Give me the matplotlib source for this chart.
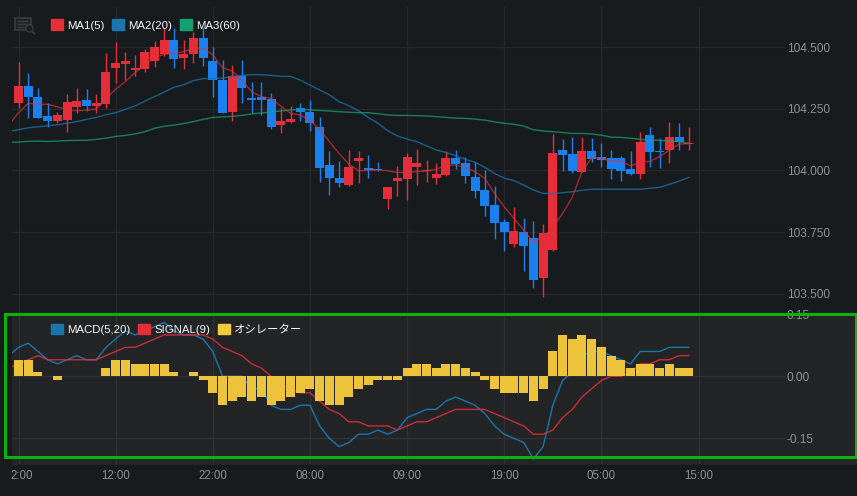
import matplotlib
matplotlib.use('Agg')
import matplotlib.pyplot as plt
import numpy as np
from matplotlib.patches import Patch, Rectangle, FancyBboxPatch
from matplotlib.lines import Line2D
from matplotlib.transforms import ScaledTranslation

plt.rcParams['font.family'] = ['Liberation Sans', 'Noto Sans CJK JP']

W, H = 857, 496

# ローソク足
opens = [104.275, 104.342, 104.298, 104.221, 104.202, 104.204, 104.257, 104.285, 104.261, 104.270,
         104.415, 104.431, 104.407, 104.412, 104.443, 104.470, 104.528, 104.455, 104.472, 104.536,
         104.443, 104.366, 104.238, 104.384, 104.293, 104.296, 104.288, 104.184, 104.198, 104.253,
         104.237, 104.176, 104.022, 103.969, 103.941, 104.038, 104.010, 104.005, 103.884, 103.957,
         103.965, 104.014, 103.996, 103.969, 103.982, 104.050, 104.030, 103.973, 103.921, 103.860,
         103.791, 103.702, 103.751, 103.726, 103.564, 103.678, 104.083, 104.067, 103.994, 104.079,
         104.054, 104.050, 104.050, 104.006, 103.986, 104.144, 104.079, 104.083, 104.135, 104.106]
highs = [104.438, 104.393, 104.333, 104.272, 104.238, 104.308, 104.333, 104.329, 104.308, 104.474,
         104.519, 104.481, 104.466, 104.491, 104.526, 104.576, 104.576, 104.528, 104.562, 104.582,
         104.501, 104.447, 104.427, 104.447, 104.357, 104.357, 104.315, 104.252, 104.261, 104.272,
         104.285, 104.215, 104.079, 104.038, 104.081, 104.079, 104.061, 104.034, 103.934, 104.017,
         104.069, 104.086, 104.042, 104.029, 104.079, 104.083, 104.053, 104.034, 104.002, 103.937,
         103.802, 103.852, 103.807, 103.795, 103.783, 104.148, 104.127, 104.135, 104.135, 104.131,
         104.110, 104.083, 104.059, 104.079, 104.156, 104.176, 104.131, 104.196, 104.192, 104.176]
lows = [104.252, 104.211, 104.211, 104.177, 104.191, 104.157, 104.234, 104.241, 104.231, 104.252,
        104.356, 104.366, 104.383, 104.400, 104.420, 104.464, 104.416, 104.410, 104.437, 104.424,
        104.299, 104.231, 104.202, 104.272, 104.231, 104.225, 104.167, 104.153, 104.191, 104.202,
        104.161, 103.955, 103.902, 103.932, 103.937, 103.951, 103.971, 103.998, 103.845, 103.898,
        103.882, 103.942, 103.952, 103.946, 103.978, 104.005, 103.951, 103.890, 103.817, 103.724,
        103.675, 103.691, 103.593, 103.525, 103.489, 103.674, 103.999, 103.988, 103.994, 104.033,
        104.015, 103.967, 103.959, 103.983, 103.967, 104.015, 104.011, 104.032, 104.083, 104.083]
closes = [104.342, 104.299, 104.214, 104.202, 104.223, 104.277, 104.281, 104.261, 104.273, 104.399,
          104.435, 104.443, 104.415, 104.480, 104.500, 104.528, 104.453, 104.470, 104.536, 104.457,
          104.366, 104.233, 104.383, 104.335, 104.285, 104.287, 104.177, 104.200, 104.208, 104.237,
          104.194, 104.011, 103.969, 103.949, 104.014, 104.050, 104.000, 104.000, 103.933, 103.969,
          104.054, 104.030, 104.002, 103.986, 104.050, 104.026, 103.978, 103.917, 103.856, 103.787,
          103.751, 103.755, 103.694, 103.556, 103.747, 104.071, 104.063, 103.998, 104.079, 104.046,
          104.042, 104.006, 103.998, 103.986, 104.115, 104.075, 104.075, 104.135, 104.115, 104.110]

# 移動平均 (先頭は左端で切れている1本前の値)
ma1 = [104.184, 104.234, 104.272, 104.268, 104.268, 104.258, 104.245, 104.242, 104.244, 104.249, 104.292,
       104.329, 104.360, 104.396, 104.427, 104.458, 104.470, 104.474, 104.481, 104.495, 104.495,
       104.468, 104.416, 104.403, 104.366, 104.319, 104.299, 104.292, 104.261, 104.231, 104.225,
       104.202, 104.167, 104.117, 104.069, 104.026, 103.999, 104.000, 104.002, 103.999, 103.992,
       103.992, 103.996, 103.998, 104.005, 104.022, 104.022, 104.013, 103.995, 103.968, 103.907,
       103.853, 103.806, 103.759, 103.709, 103.732, 103.767, 103.826, 103.891, 103.995, 104.052,
       104.049, 104.038, 104.037, 104.019, 104.032, 104.037, 104.056, 104.083, 104.107, 104.109]
ma2 = [104.158, 104.165, 104.173, 104.177, 104.181, 104.185, 104.191, 104.198, 104.207, 104.215, 104.226,
       104.234, 104.248, 104.261, 104.281, 104.299, 104.318, 104.337, 104.347, 104.364, 104.372,
       104.372, 104.374, 104.380, 104.385, 104.388, 104.388, 104.385, 104.381, 104.381, 104.366,
       104.346, 104.326, 104.306, 104.279, 104.262, 104.242, 104.215, 104.191, 104.161, 104.140,
       104.127, 104.117, 104.100, 104.083, 104.073, 104.060, 104.045, 104.033, 104.013, 103.988,
       103.969, 103.959, 103.941, 103.921, 103.907, 103.907, 103.910, 103.914, 103.920, 103.924,
       103.924, 103.924, 103.924, 103.924, 103.924, 103.928, 103.932, 103.944, 103.957, 103.972]
ma3 = [104.114, 104.115, 104.118, 104.119, 104.118, 104.119, 104.121, 104.122, 104.122, 104.126, 104.131,
       104.138, 104.142, 104.148, 104.157, 104.171, 104.179, 104.184, 104.190, 104.198, 104.207,
       104.215, 104.217, 104.219, 104.223, 104.229, 104.233, 104.237, 104.241, 104.245, 104.248,
       104.245, 104.243, 104.241, 104.238, 104.236, 104.234, 104.234, 104.230, 104.225, 104.223,
       104.223, 104.222, 104.221, 104.218, 104.215, 104.212, 104.211, 104.208, 104.204, 104.197,
       104.191, 104.187, 104.180, 104.165, 104.160, 104.157, 104.154, 104.150, 104.150, 104.148,
       104.143, 104.135, 104.134, 104.131, 104.126, 104.123, 104.122, 104.119, 104.117, 104.110]

# MACD
macd = [0.05, 0.07, 0.08, 0.06, 0.04, 0.03, 0.04, 0.05, 0.04, 0.04, 0.07,
        0.09, 0.11, 0.10, 0.11, 0.12, 0.13, 0.11, 0.10, 0.10, 0.09,
        0.06, 0.00, 0.00, 0.00, -0.03, -0.03, -0.07, -0.08, -0.08, -0.07,
        -0.07, -0.12, -0.15, -0.17, -0.16, -0.14, -0.14, -0.13, -0.14, -0.13,
        -0.10, -0.09, -0.08, -0.08, -0.06, -0.05, -0.06, -0.07, -0.09, -0.12,
        -0.14, -0.15, -0.16, -0.20, -0.17, -0.07, -0.01, 0.01, 0.05, 0.06,
        0.06, 0.05, 0.04, 0.03, 0.06, 0.06, 0.06, 0.07, 0.07, 0.07]
signal = [0.02, 0.03, 0.04, 0.05, 0.04, 0.04, 0.04, 0.04, 0.04, 0.04, 0.05,
          0.06, 0.07, 0.07, 0.08, 0.09, 0.10, 0.10, 0.10, 0.10, 0.10,
          0.09, 0.07, 0.06, 0.05, 0.03, 0.02, 0.00, -0.02, -0.03, -0.04,
          -0.04, -0.06, -0.08, -0.09, -0.11, -0.11, -0.12, -0.12, -0.12, -0.13,
          -0.12, -0.11, -0.11, -0.10, -0.09, -0.08, -0.08, -0.08, -0.08, -0.09,
          -0.10, -0.11, -0.12, -0.14, -0.14, -0.13, -0.10, -0.08, -0.05, -0.03,
          -0.01, 0.00, 0.00, 0.01, 0.03, 0.03, 0.04, 0.04, 0.05, 0.05]
osc = [0.04, 0.04, 0.01, 0.00, -0.01, 0.00, 0.00, 0.00, 0.00, 0.02,
       0.04, 0.04, 0.03, 0.03, 0.03, 0.03, 0.01, 0.00, 0.01, -0.01,
       -0.04, -0.07, -0.06, -0.05, -0.06, -0.05, -0.07, -0.06, -0.05, -0.04,
       -0.03, -0.06, -0.07, -0.07, -0.05, -0.03, -0.02, -0.01, -0.01, -0.01,
       0.02, 0.03, 0.03, 0.02, 0.03, 0.03, 0.02, 0.01, -0.01, -0.03,
       -0.04, -0.04, -0.04, -0.06, -0.03, 0.06, 0.10, 0.09, 0.10, 0.09,
       0.07, 0.05, 0.04, 0.02, 0.03, 0.03, 0.02, 0.03, 0.02, 0.02]

price_ticks = [103.5, 103.75, 104.0, 104.25, 104.5]
macd_ticks = [-0.15, 0.0, 0.15]
time_labels = ['2:00', '12:00', '22:00', '08:00', '09:00', '19:00', '05:00', '15:00']

BG = '#181b1d'
PANEL = '#232426'
GRID = '#25282a'
GRID2 = '#303235'
TICK = '#8e9093'
RED = '#e62e3a'
BLUE = '#1a80f0'
YELLOW = '#f4c93b'
L_BLUE = '#1a76ad'
L_RED = '#e62e3a'
L_GREEN = '#14a071'


def px_axes(fig, x0, y0, x1, y1):
    # ピクセル指定(上原点)でaxesを作る
    return fig.add_axes([x0 / W, 1 - y1 / H, (x1 - x0) / W, (y1 - y0) / H])


def draw_icon(fig):
    c = '#393c3f'
    fig.add_artist(FancyBboxPatch((15 / W, 1 - 30 / H), 16 / W, 12 / H, boxstyle='round,pad=0',
                                  transform=fig.transFigure, fc='#222527', ec=c, lw=1.2))
    for yy in (21, 24, 27):
        fig.add_artist(Line2D([18 / W, 27 / W], [1 - yy / H, 1 - yy / H], color=c, lw=1))
    fig.add_artist(Line2D([31.5 / W, 34.5 / W], [1 - 31 / H, 1 - 33.5 / H], color=c, lw=1.4))
    fig.add_artist(Line2D([29.3 / W], [1 - 28.3 / H], marker='o', ms=5, mfc=BG, mec=c, mew=1))


def make_legend(ax, items, top_px, spacing):
    handles = [Patch(color=col, label=name) for col, name in items]
    bbox = ax.get_position()
    return ax.legend(handles=handles, ncol=3, frameon=False, loc='upper left',
                     bbox_to_anchor=((51 - 12) / 773, 1.0 - top_px / (bbox.height * H)),
                     borderaxespad=0, borderpad=0, fontsize=8.2, labelcolor='#f6f6f6',
                     handlelength=1.05, handleheight=1.05, handletextpad=0.36, columnspacing=spacing)


fig = plt.figure(figsize=(W / 100, H / 100), dpi=100, facecolor=BG)
fig.add_artist(Rectangle((12 / W, 1 - 464.5 / H), (W - 12) / W, 151.5 / H, transform=fig.transFigure,
                         fc=PANEL, ec='none', zorder=-5))

ax1 = px_axes(fig, 12, 7, 785, 313)
ax2 = px_axes(fig, 12, 313, 785, 464)
xs = np.arange(len(opens))
xl = np.arange(-1, len(opens))
xlim = (-0.67, 78.9)

# 上段
colors = [RED if c >= o else BLUE for o, c in zip(opens, closes)]
ax1.vlines(xs, lows, highs, colors=colors, lw=1, zorder=3)
ax1.bar(xs, np.abs(np.array(closes) - np.array(opens)), bottom=np.minimum(opens, closes),
        width=0.92, color=colors, zorder=4)
ax1.plot(xl, ma2, color=L_BLUE, lw=1, alpha=0.75, zorder=5)
ax1.plot(xl, ma3, color=L_GREEN, lw=1, alpha=0.75, zorder=5)
ax1.plot(xl, ma1, color=L_RED, lw=1, alpha=0.65, zorder=5)
ax1.set_ylim(103.423, 104.662)
ax1.set_yticks(price_ticks)
ax1.set_yticklabels(['%.3f' % v for v in price_ticks])

# 下段
ax2.plot(xl, macd, color=L_BLUE, lw=1, zorder=3)
ax2.plot(xl, signal, color=L_RED, lw=1, alpha=0.85, zorder=3)
ax2.bar(xs, osc, width=0.92, color=YELLOW, alpha=0.97, zorder=4)
ax2.set_ylim(-0.212, 0.153)
ax2.set_yticks(macd_ticks)
ax2.set_yticklabels(['%.2f' % v for v in macd_ticks])

for ax, col in ((ax1, GRID), (ax2, GRID2)):
    ax.set_xlim(*xlim)
    ax.set_xticks(np.arange(0, 80, 10))
    ax.patch.set_alpha(0)
    ax.grid(True, color=col, lw=1)
    ax.set_axisbelow(True)
    for s in ax.spines.values():
        s.set_visible(False)
    ax.yaxis.tick_right()
    ax.tick_params(axis='y', length=0, pad=1.4, labelcolor=TICK, labelsize=8.6)
    ax.tick_params(axis='x', length=0, labelcolor=TICK, labelsize=8.3)
ax1.tick_params(axis='x', labelbottom=False)
ax2.set_xticklabels(time_labels)
ax2.tick_params(axis='x', pad=4)
# 左端の 2:00 は切れた位置に寄せる
first = ax2.get_xticklabels()[0]
first.set_transform(first.get_transform() + ScaledTranslation(3.5 / 100, 0, fig.dpi_scale_trans))

# 凡例
make_legend(ax1, [(L_RED, 'MA1(5)'), (L_BLUE, 'MA2(20)'), (L_GREEN, 'MA3(60)')], 12.5, 0.7)
make_legend(ax2, [(L_BLUE, 'MACD(5,20)'), (L_RED, 'SIGNAL(9)'), (YELLOW, 'オシレーター')], 10.5, 0.7)

draw_icon(fig)

# 緑の枠
fig.add_artist(Rectangle((5 / W, 1 - 456.5 / H), 850.5 / W, 142.5 / H, transform=fig.transFigure,
                         fc='none', ec='#0bb20b', lw=2.2, zorder=10))

fig.savefig('out.png', dpi=100, facecolor=BG)
